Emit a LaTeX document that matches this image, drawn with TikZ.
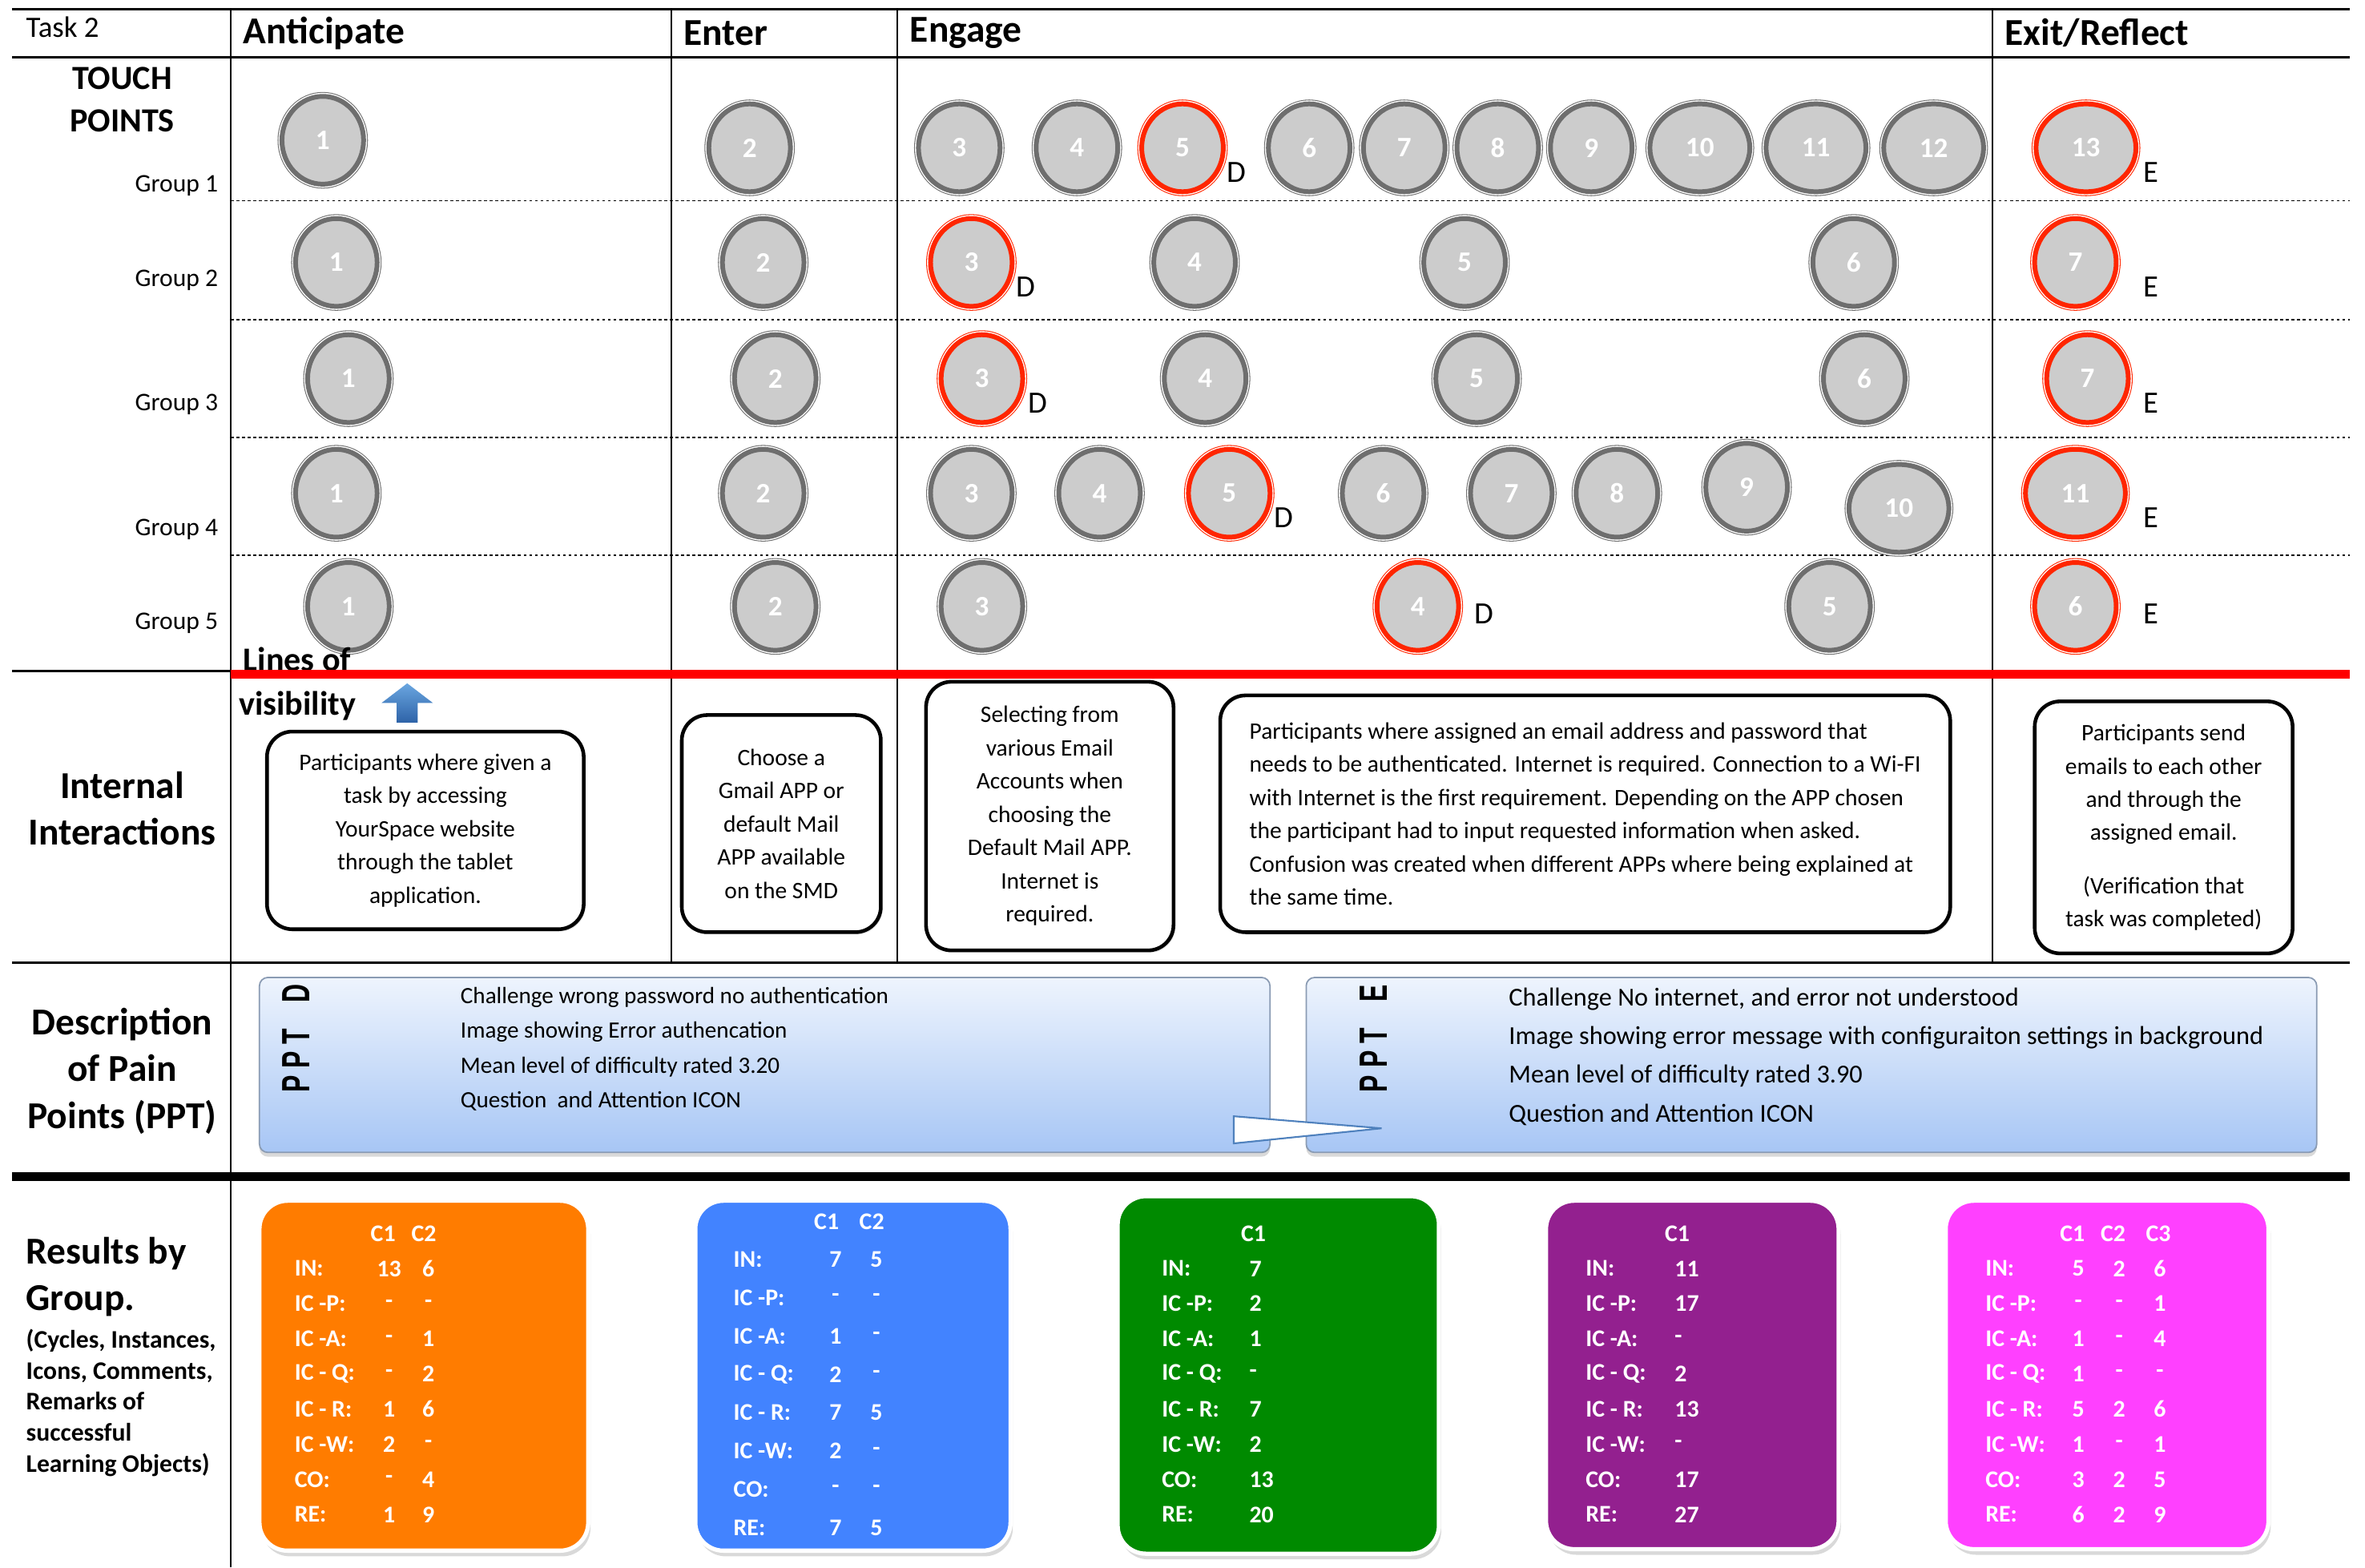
\documentclass[tikz,border=0pt]{standalone}
\usepackage{fontspec}
\usepackage{graphicx}
\setmainfont{Carlito}
\newfontfamily\pptfont{Liberation Sans}
\usetikzlibrary{shapes.geometric,shadows}

\definecolor{tpfill}{HTML}{CCCCCC}
\definecolor{tpring}{HTML}{6E6E6E}
\definecolor{tpred}{HTML}{FF2600}
\definecolor{paneltop}{HTML}{EEF4FD}
\definecolor{panelbot}{HTML}{A7C6F5}
\definecolor{panelline}{HTML}{8A9BB3}
\definecolor{arrowtop}{HTML}{6AA6E0}
\definecolor{arrowbot}{HTML}{2E63A8}
\definecolor{callout}{HTML}{4F81BD}
\definecolor{resorange}{HTML}{FF7C00}
\definecolor{resblue}{HTML}{4283FF}
\definecolor{resgreen}{HTML}{008A00}
\definecolor{respurple}{HTML}{93208F}
\definecolor{resmagenta}{HTML}{FF40FF}

\tikzset{
  tp/.style={ellipse, inner sep=0pt, minimum width=29pt, minimum height=31.2pt,
    fill=tpfill, line width=1.7pt, text=white, font=\bfseries\fontsize{10}{10}\selectfont},
  tpg/.style={tp, draw=tpring, preaction={draw=tpring, line width=3.1pt},
    preaction={draw=white, line width=2.5pt}},
  tpr/.style={tp, draw=tpred, preaction={draw=tpred, line width=3.1pt},
    preaction={draw=white, line width=2.5pt}},
  tpgw/.style={tpg, minimum width=35.5pt},
  tprw/.style={tpr, minimum width=35.5pt},
  flag/.style={inner sep=0pt, font=\fontsize{11}{11}\selectfont},
  head/.style={anchor=west, inner sep=0pt, font=\bfseries\fontsize{13.5}{13.5}\selectfont},
  side/.style={inner sep=0pt, align=center, font=\bfseries\fontsize{13.5}{16.6}\selectfont},
  grp/.style={anchor=east, inner sep=0pt, font=\fontsize{9}{9}\selectfont},
  rowline/.style={line width=0.5pt, dash pattern=on 1pt off 1pt},
  ibox/.style={draw, fill=white, line width=1.3pt, rounded corners=9pt, align=center, inner sep=0pt,
    font=\fontsize{8.4}{11.8}\selectfont,
    drop shadow={shadow xshift=0.6pt, shadow yshift=-0.8pt, opacity=0.25}},
  pbox/.style={draw=panelline, line width=0.5pt, top color=paneltop, bottom color=panelbot,
    rounded corners=3pt, drop shadow={shadow xshift=0pt, shadow yshift=-1.5pt, opacity=0.3}},
  pptlab/.style={rotate=90, inner sep=0pt, font=\pptfont\bfseries\fontsize{14}{14}\selectfont},
  rbox/.style={draw=white, line width=1.5pt, rounded corners=10pt,
    drop shadow={shadow xshift=0.8pt, shadow yshift=-2pt, opacity=0.3}},
  rtxt/.style={inner sep=0pt, text=white, font=\bfseries\fontsize{8.5}{8.5}\selectfont}
}

\begin{document}
\begin{tikzpicture}[x=0.018827cm, y=-0.018827cm]
\useasboundingbox (0,0) rectangle (1568,1039);

% table lines
\draw[line width=0.9pt] (8,6) -- (1558,6);
\draw[line width=0.9pt] (8,38) -- (1558,38);
\draw[line width=0.5pt] (153,6) -- (153,1039);
\draw[line width=0.5pt] (445,6) -- (445,638);
\draw[line width=0.5pt] (595,6) -- (595,638);
\draw[line width=0.5pt] (1321,6) -- (1321,638);
\foreach \y in {133,212,290,368}
  \draw[rowline] (153,\y) -- (1558,\y);
\draw[line width=0.9pt] (8,445) -- (153,445);
\draw[line width=0.8pt] (8,638) -- (1558,638);
\draw[line width=3.3pt] (8,780) -- (1558,780);

% headers
\node[anchor=west, inner sep=0pt, font=\fontsize{10.5}{10.5}\selectfont] (task) at (17,18) {Task 2};
\node[head] (hant) at (161,22) {Anticipate};
\node[head] (hent) at (453,22) {Enter};
\node[head] (heng) at (603,22) {Engage};
\node[head] (hexi) at (1329,22) {Exit/Reflect};

\node[side, font=\bfseries\fontsize{12}{15}\selectfont] (touch) at (81,66) {TOUCH\\POINTS};
\node[grp] (grp1) at (145,123) {Group 1};
\node[grp] (grp2) at (145,186) {Group 2};
\node[grp] (grp3) at (145,268) {Group 3};
\node[grp] (grp4) at (145,351) {Group 4};
\node[grp] (grp5) at (145,413) {Group 5};

% touch points
\foreach \x/\y/\n/\s in {214/93/1/tpg, 497/98/2/tpg, 636/98/3/tpg, 714/98/4/tpg, 784/98/5/tpr,
    868/98/6/tpg, 931/98/7/tpg, 993/98/8/tpg, 1055/98/9/tpg, 1127/98/10/tpgw,
    1204/98/11/tpgw, 1282/98/12/tpgw, 1383/98/13/tprw}
  \node[\s] (g1-\n) at (\x,\y) {\n};
\foreach \x/\n/\s in {223/1/tpg, 506/2/tpg, 644/3/tpr, 792/4/tpg, 971/5/tpg, 1229/6/tpg, 1376/7/tpr}
  \node[\s] (g2-\n) at (\x,174) {\n};
\foreach \x/\n/\s in {231/1/tpg, 514/2/tpg, 651/3/tpr, 799/4/tpg, 979/5/tpg, 1236/6/tpg, 1384/7/tpr}
  \node[\s] (g3-\n) at (\x,251) {\n};
\foreach \x/\y/\n/\s in {223/327/1/tpg, 506/327/2/tpg, 644/327/3/tpg, 729/327/4/tpg, 815/327/5/tpr,
    917/327/6/tpg, 1002/327/7/tpg, 1072/327/8/tpg, 1158/323/9/tpg, 1259/337/10/tpgw, 1376/327/11/tprw}
  \node[\s] (g4-\n) at (\x,\y) {\n};
\foreach \x/\n/\s in {231/1/tpg, 514/2/tpg, 651/3/tpg, 940/4/tpr, 1213/5/tpg, 1376/6/tpr}
  \node[\s] (g5-\n) at (\x,402) {\n};

\node[flag] (d1) at (820,114) {D};
\node[flag] (d2) at (680,190) {D};
\node[flag] (d3) at (688,267) {D};
\node[flag] (d4) at (851,343) {D};
\node[flag] (d5) at (984,407) {D};
\foreach \y [count=\i] in {114,190,267,343,407}
  \node[flag] (e\i) at (1426,\y) {E};

% line of visibility
\node[anchor=west, inner sep=0pt, font=\bfseries\fontsize{12}{12}\selectfont] (lines) at (161,437) {Lines of};
\node[anchor=west, inner sep=0pt, font=\bfseries\fontsize{12}{12}\selectfont] (vis) at (158,468) {visibility};
\draw[red, line width=3.1pt] (153,447) -- (1558,447);
\shade[top color=arrowtop, bottom color=arrowbot] (263,479) -- (263,466) -- (253,466) -- (270,453)
  -- (287,466) -- (277,466) -- (277,479) -- cycle;

% internal interactions
\node[side] (intl) at (81,536) {Internal\\Interactions};
\node[ibox, minimum width=112.5pt, minimum height=70.2pt] (ia) at (282,550.5)
  {Participants where given a\\task by accessing\\YourSpace website\\through the tablet\\application.};
\node[ibox, minimum width=70.7pt, minimum height=77.1pt] (ib) at (518,546)
  {Choose a\\Gmail APP or\\default Mail\\APP available\\on the SMD};
\node[ibox, minimum width=87.9pt, minimum height=95.4pt] (ic) at (696,541)
  {Selecting from\\various Email\\Accounts when\\choosing the\\Default Mail APP.\\Internet is\\required.};
\node[ibox, align=left, minimum width=259.3pt, minimum height=84.1pt] (id) at (1051,539.5)
  {Participants where assigned an email address and password that\\
   needs to be authenticated. Internet is required. Connection to a Wi-FI\\
   with Internet is the first requirement. Depending on the APP chosen\\
   the participant had to input requested information when asked.\\
   Confusion was created when different APPs where being explained at\\
   the same time.};
\node[ibox, minimum width=91.6pt, minimum height=89.5pt] (ie) at (1434.5,548.5)
  {Participants send\\emails to each other\\and through the\\assigned email.\\[7pt](Verification that\\task was completed)};

% pain points
\node[side] (desc) at (81,710) {Description\\of Pain\\Points (PPT)};
\path[pbox] (172,648) rectangle (842,764);
\path[pbox] (866,648) rectangle (1536,764);
\node[pptlab] (pptd) at (196.5,688.5) {\scalebox{0.65}[1]{P\hspace{4pt}P\hspace{4pt}T\hspace{14pt}D}};
\node[pptlab] (ppte) at (910.5,688.5) {\scalebox{0.65}[1]{P\hspace{4pt}P\hspace{4pt}T\hspace{14pt}E}};
\node[anchor=west, inner sep=0pt, align=left, font=\fontsize{8.3}{12.3}\selectfont] (dtext) at (305,695.5)
  {Challenge wrong password no authentication\\Image showing Error authencation\\
   Mean level of difficulty rated 3.20\\Question\ \ and Attention ICON};
\node[anchor=west, inner sep=0pt, align=left, font=\fontsize{9.2}{13.7}\selectfont] (etext) at (1000,700.5)
  {Challenge No internet, and error not understood\\
   Image showing error message with configuraiton settings in background\\
   Mean level of difficulty rated 3.90\\Question and Attention ICON};
\filldraw[fill=white, draw=callout, line width=0.6pt] (818,740) -- (916,748) -- (818,758) -- cycle;

% results by group
\node[side, anchor=west, align=left] (res) at (17,846.5) {Results by\\Group.};
\node[anchor=west, inner sep=0pt, align=left, font=\bfseries\fontsize{9}{11}\selectfont] (resnote) at (17,930)
  {(Cycles, Instances,\\Icons, Comments,\\Remarks of\\successful\\Learning Objects)};

\path[rbox, fill=resorange] (172,796) rectangle (390,1028);
\path[rbox, fill=resblue] (461,796) rectangle (670,1028);
\path[rbox, fill=resgreen] (741,793) rectangle (954,1030);
\path[rbox, fill=respurple] (1025,796) rectangle (1219,1027);
\path[rbox, fill=resmagenta] (1290,796) rectangle (1504,1027);

% orange
\node[rtxt] (oh1) at (254,818) {C1};
\node[rtxt] (oh2) at (281,818) {C2};
\foreach \lab/\a/\b [count=\i] in {IN:/13/6, IC -P:/-/-, IC -A:/-/1, IC - Q:/-/2,
    IC - R:/1/6, IC -W:/2/-, CO:/-/4, RE:/1/9}{
  \node[rtxt, anchor=west] (ol\i) at (195,{841+23.3*(\i-1)}) {\lab};
  \node[rtxt] (oa\i) at (258,{841+23.3*(\i-1)}) {\a};
  \node[rtxt] (ob\i) at (284,{841+23.3*(\i-1)}) {\b};
}
% blue
\node[rtxt] (bh1) at (548,810) {C1};
\node[rtxt] (bh2) at (578,810) {C2};
\foreach \lab/\a/\b [count=\i] in {IN:/7/5, IC -P:/-/-, IC -A:/1/-, IC - Q:/2/-,
    IC - R:/7/5, IC -W:/2/-, CO:/-/-, RE:/7/5}{
  \node[rtxt, anchor=west] (bl\i) at (486,{835+25.4*(\i-1)}) {\lab};
  \node[rtxt] (ba\i) at (554,{835+25.4*(\i-1)}) {\a};
  \node[rtxt] (bb\i) at (581,{835+25.4*(\i-1)}) {\b};
}
% green
\node[rtxt] (gh1) at (831,818) {C1};
\foreach \lab/\a [count=\i] in {IN:/7, IC -P:/2, IC -A:/1, IC - Q:/-,
    IC - R:/7, IC -W:/2, CO:/13, RE:/20}{
  \node[rtxt, anchor=west] (gl\i) at (770,{841+23.3*(\i-1)}) {\lab};
  \node[rtxt, anchor=west] (ga\i) at (828,{841+23.3*(\i-1)}) {\a};
}
% purple
\node[rtxt] (ph1) at (1112,818) {C1};
\foreach \lab/\a [count=\i] in {IN:/11, IC -P:/17, IC -A:/-, IC - Q:/2,
    IC - R:/13, IC -W:/-, CO:/17, RE:/27}{
  \node[rtxt, anchor=west] (pl\i) at (1051,{841+23.3*(\i-1)}) {\lab};
  \node[rtxt, anchor=west] (pa\i) at (1110,{841+23.3*(\i-1)}) {\a};
}
% magenta
\node[rtxt] (mh1) at (1374,818) {C1};
\node[rtxt] (mh2) at (1401,818) {C2};
\node[rtxt] (mh3) at (1431,818) {C3};
\foreach \lab/\a/\b/\c [count=\i] in {IN:/5/2/6, IC -P:/-/-/1, IC -A:/1/-/4, IC - Q:/1/-/-,
    IC - R:/5/2/6, IC -W:/1/-/1, CO:/3/2/5, RE:/6/2/9}{
  \node[rtxt, anchor=west] (ml\i) at (1316,{841+23.3*(\i-1)}) {\lab};
  \node[rtxt] (ma\i) at (1378,{841+23.3*(\i-1)}) {\a};
  \node[rtxt] (mb\i) at (1405,{841+23.3*(\i-1)}) {\b};
  \node[rtxt] (mc\i) at (1432,{841+23.3*(\i-1)}) {\c};
}
\end{tikzpicture}
\end{document}
